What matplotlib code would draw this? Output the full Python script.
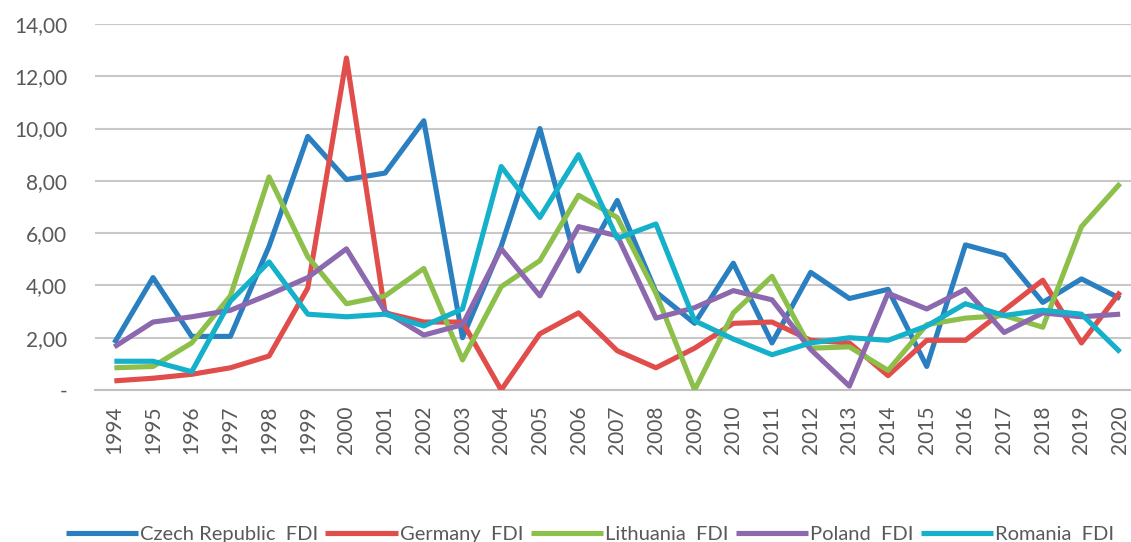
import matplotlib
matplotlib.use("Agg")
import matplotlib.pyplot as plt
from matplotlib.ticker import FuncFormatter

plt.rcParams["font.family"] = ["Lato", "DejaVu Sans"]

years = [str(y) for y in range(1994, 2021)]

czech = [1.8, 4.3, 2.05, 2.05, 5.5, 9.7, 8.05, 8.3, 10.3, 2.0, 5.5, 10.0, 4.55,
         7.25, 3.75, 2.55, 4.85, 1.8, 4.5, 3.5, 3.85, 0.9, 5.55, 5.15, 3.35, 4.25, 3.5]
germany = [0.35, 0.45, 0.6, 0.85, 1.3, 3.9, 12.7, 2.95, 2.6, 2.6, 0.0, 2.15, 2.95,
           1.5, 0.85, 1.6, 2.55, 2.6, 1.9, 1.8, 0.55, 1.9, 1.9, 3.05, 4.2, 1.8, 3.75]
lithuania = [0.85, 0.9, 1.8, 3.6, 8.15, 5.1, 3.3, 3.6, 4.65, 1.15, 3.95, 4.95, 7.45,
             6.6, 3.7, 0.0, 2.95, 4.35, 1.6, 1.65, 0.75, 2.5, 2.75, 2.85, 2.4, 6.25, 7.9]
poland = [1.65, 2.6, 2.8, 3.05, 3.65, 4.3, 5.4, 3.0, 2.1, 2.5, 5.4, 3.6, 6.25,
          5.9, 2.75, 3.15, 3.8, 3.45, 1.55, 0.15, 3.7, 3.1, 3.85, 2.2, 2.95, 2.8, 2.9]
romania = [1.1, 1.1, 0.7, 3.4, 4.9, 2.9, 2.8, 2.9, 2.45, 3.1, 8.55, 6.6, 9.0,
           5.8, 6.35, 2.65, 1.95, 1.35, 1.8, 2.0, 1.9, 2.45, 3.3, 2.85, 3.05, 2.9, 1.45]

series_names = ["Czech Republic  FDI", "Germany  FDI", "Lithuania  FDI",
                "Poland  FDI", "Romania  FDI"]
series_values = [czech, germany, lithuania, poland, romania]
colors = ["#2A7FC1", "#E04D4A", "#8DBF4B", "#8C68AE", "#15B0C9"]

W, H = 1131, 542
fig = plt.figure(figsize=(W / 100, H / 100), dpi=100)
left, right, top, bottom = 95, 1131, 24, 390
ax = fig.add_axes([left / W, 1 - bottom / H, (right - left) / W, (bottom - top) / H])

x = list(range(len(years)))
handles = []
for name, vals, c in zip(series_names, series_values, colors):
    h, = ax.plot(x, vals, color=c, lw=3.7, solid_joinstyle="round",
                 solid_capstyle="butt", label=name, zorder=3)
    handles.append(h)

ax.set_ylim(0, 14)
ax.set_yticks(range(0, 15, 2))
ax.yaxis.set_major_formatter(FuncFormatter(lambda v, p: "-" if v == 0 else f"{v:.2f}".replace(".", ",")))
ax.set_xlim(-0.5, 26.28)
ax.set_xticks(x)
ax.set_xticklabels(years, rotation=90)

ax.grid(axis="y", color="#C8C8C8", lw=1.5, zorder=0)
ax.set_axisbelow(True)
for s in ["top", "right", "left"]:
    ax.spines[s].set_visible(False)
ax.spines["bottom"].set_color("#BFBFBF")
ax.spines["bottom"].set_linewidth(1.5)

ax.tick_params(axis="both", length=0, colors="#595959", labelsize=15)
ax.tick_params(axis="y", pad=20)
ax.tick_params(axis="x", pad=11)

leg = fig.legend(handles=handles, loc="center", bbox_to_anchor=(590 / W, 1 - 534 / H),
                 ncol=5, frameon=False, handlelength=3.6,
                 handletextpad=0.1, columnspacing=0.35,
                 prop={"family": ["Lato", "DejaVu Sans"], "size": 14.5})
for t in leg.get_texts():
    t.set_color("#595959")

fig.savefig("out.png", dpi=100)
